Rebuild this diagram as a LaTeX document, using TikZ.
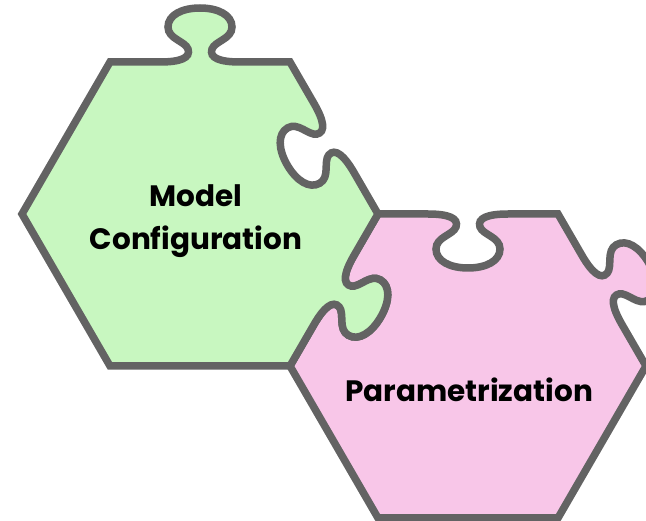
\documentclass[tikz,border=0pt]{standalone}
\usepackage{fontspec}
\newfontfamily\labelfont{Poppins}
\definecolor{piecegreen}{RGB}{200,247,192}
\definecolor{piecepink}{RGB}{248,198,232}
\definecolor{outline}{RGB}{99,99,99}

% A jigsaw knob on the edge whose midpoint is #1 and whose direction is #2 (degrees).
% #3 = 1 gives a tab pointing outwards, #3 = -1 a blank cut inwards.
\newcommand\knob[3]{%
  {[shift={#1}, rotate=#2, yscale=#3]
   -- (-40,0) .. controls (-20,0) and (-9,4) .. (-12,13)
   .. controls (-15,21) and (-32,23) .. (-32,35)
   .. controls (-32,47) and (-18,54) .. (0,54)
   .. controls (18,54) and (32,47) .. (32,35)
   .. controls (32,23) and (15,21) .. (12,13)
   .. controls (9,4) and (20,0) .. (40,0)}}

\tikzset{
  piece/.style={draw=outline, line width=7.5pt, line join=miter},
  piecelabel/.style={font=\labelfont\bfseries\fontsize{29.5}{34}\selectfont, text=black, inner sep=0pt, anchor=base},
}

\begin{document}
\begin{tikzpicture}[x=1pt,y=1pt]
  \useasboundingbox (0,0) rectangle (646,-521);
  \clip (0,0) rectangle (646,-521);

  % corners of the two hexagonal pieces
  \coordinate (gTL) at (110,-62);
  \coordinate (gTR) at (290,-62);
  \coordinate (gR)  at (378,-214);
  \coordinate (gBR) at (290,-366);
  \coordinate (gBL) at (110,-366);
  \coordinate (gL)  at (22,-214);

  \coordinate (pTL) at (378,-214);
  \coordinate (pTR) at (558,-214);
  \coordinate (pR)  at (646,-366);
  \coordinate (pBR) at (558,-518);
  \coordinate (pBL) at (378,-518);
  \coordinate (pL)  at (290,-366);

  % pink piece: Parametrization
  \path[piece, fill=piecepink]
    (pTL) \knob{(468,-214)}{0}{-1}
    -- (pTR) \knob{(602,-290)}{-59.93}{1}
    -- (pR) -- (pBR) -- (pBL) -- (pL)
    \knob{(334,-290)}{59.93}{-1} -- cycle;

  % green piece: Model Configuration
  \path[piece, fill=piecegreen]
    (gTL) \knob{(200,-62)}{0}{1}
    -- (gTR) \knob{(334,-138)}{-59.93}{-1}
    -- (gR) \knob{(334,-290)}{-120.07}{1}
    -- (gBR) -- (gBL) -- (gL) -- cycle;

  \node[piecelabel] (modeltext)  at (196,-207) {Model};
  \node[piecelabel] (configtext) at (196,-250) {Configuration};
  \node[piecelabel] (paramtext)  at (469,-402) {Parametrization};
\end{tikzpicture}
\end{document}
